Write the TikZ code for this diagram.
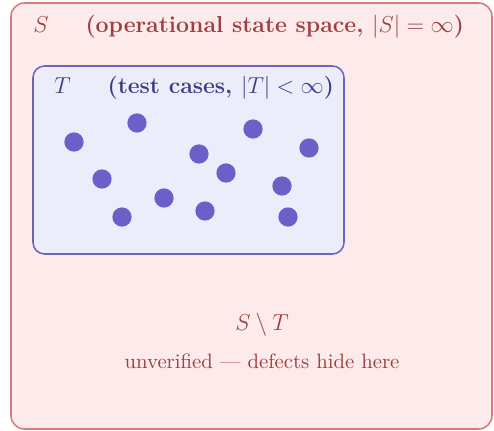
\documentclass[tikz,border=0pt]{standalone}
\usepackage{amsmath, amssymb}
\usetikzlibrary{positioning}
\definecolor{spacefill}{RGB}{253,234,234}
\definecolor{spaceline}{RGB}{214,122,122}
\definecolor{spacetext}{RGB}{158,62,62}
\definecolor{testfill}{RGB}{236,236,251}
\definecolor{testline}{RGB}{108,100,192}
\definecolor{testtext}{RGB}{62,60,128}
\definecolor{testdot}{RGB}{106,96,200}

\begin{document}
\begin{tikzpicture}[
    x=0.52pt, y=-0.52pt,
    spacebox/.style={draw=spaceline, fill=spacefill, rounded corners=7pt, line width=0.8pt},
    testbox/.style={draw=testline, fill=testfill, rounded corners=6pt, line width=0.8pt},
    sample/.style={circle, fill=testdot, inner sep=0pt, minimum size=10pt},
    lbl/.style={anchor=west, inner sep=0pt, font=\large}
]
  \useasboundingbox (0,0) rectangle (494,431);

  % Regions
  \draw[spacebox] (11,3) rectangle (492,429);
  \draw[testbox] (33,66) rectangle (344,254);

  % Labels
  \node[lbl, text=spacetext] (Slabel) at (33,27)
      {$S$\hspace{1.6em}\textbf{(operational state space, $|S| = \infty$)}};
  \node[lbl, text=testtext] (Tlabel) at (54,88)
      {$T$\hspace{1.6em}\textbf{(test cases, $|T| < \infty$)}};
  \node[text=spacetext, font=\large] (rest) at (262,325) {$S \setminus T$};
  \node[text=spacetext, font=\fontsize{10.8}{13}\selectfont, below=2pt of rest] (restnote)
      {unverified --- defects hide here};

  % Test cases
  \foreach \px/\py [count=\i] in {74/142, 137/123, 253/129, 309/148, 199/154, 226/173,
                                  102/179, 282/186, 164/198, 205/211, 122/217, 288/217}
    \node[sample] (t\i) at (\px,\py) {};
\end{tikzpicture}
\end{document}
